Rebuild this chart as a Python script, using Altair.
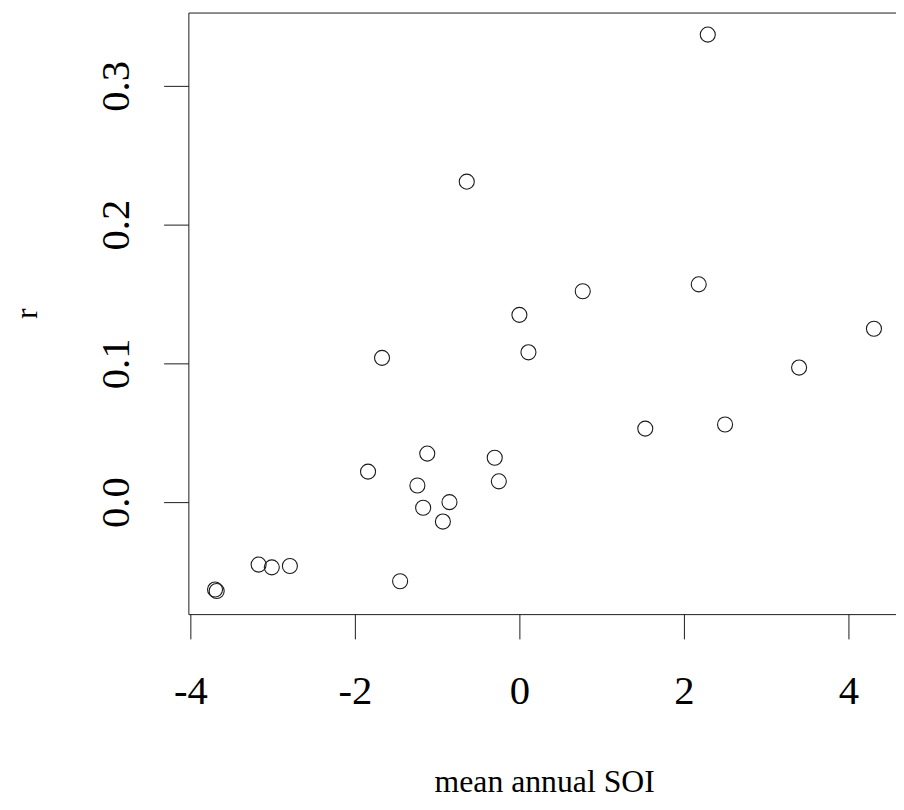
import altair as alt
import pandas as pd

# mean annual SOI (x) and correlation r (y)
soi = [2.29, -0.64, 2.18, 0.77, 0.00, 4.31, 0.11, -1.67, 3.40, 2.50,
       1.53, -1.12, -0.30, -1.84, -0.25, -1.24, -0.85, -1.17, -0.93,
       -3.17, -3.01, -2.79, -1.45, -3.70, -3.68]
r = [0.337, 0.231, 0.157, 0.152, 0.135, 0.125, 0.108, 0.104, 0.097, 0.056,
     0.053, 0.035, 0.032, 0.022, 0.015, 0.012, 0.000, -0.004, -0.014,
     -0.045, -0.047, -0.046, -0.057, -0.063, -0.064]

x_ticks = [-4, -2, 0, 2, 4]
y_ticks = [0.0, 0.1, 0.2, 0.3]
x_domain = [-4.024, 4.578]
y_domain = [-0.0807, 0.3529]

df = pd.DataFrame({"soi": soi, "r": r})

FONT = "Liberation Serif"
INK = "#1a1a1a"
W, H = 714, 607
TICK_FS = 41
TITLE_FS = 32

xscale = alt.Scale(domain=x_domain, nice=False, zero=False)
yscale = alt.Scale(domain=y_domain, nice=False, zero=False)

points = alt.Chart(df).mark_point(
    shape="circle", filled=False, size=230, stroke=INK, strokeWidth=1.1, opacity=1
).encode(
    x=alt.X("soi:Q", scale=xscale, axis=alt.Axis(
        orient="bottom", values=x_ticks,
        labelExpr="datum.value < 0 ? '-' + abs(datum.value) : '' + datum.value",
        title="mean annual SOI", titleFont=FONT, titleFontSize=TITLE_FS, titleFontWeight="normal",
        titleColor="black", titleX=359, titleY=179, titleAlign="center", titleBaseline="alphabetic",
        labelFont=FONT, labelFontSize=TICK_FS, labelColor="black", labelBaseline="alphabetic",
        labelPadding=65, tickSize=25, tickColor=INK, tickWidth=1, domainColor=INK, domainWidth=1,
        grid=False, labelFlush=False, labelOverlap=False,
    )),
    y=alt.Y("r:Q", scale=yscale, axis=alt.Axis(
        orient="left", values=y_ticks, format=".1f",
        title="r", titleFont=FONT, titleFontSize=TITLE_FS, titleFontWeight="normal", titleColor="black",
        titleAngle=270, titleX=-153, titleY=H / 2, titleAlign="center", titleBaseline="alphabetic",
        labelFont=FONT, labelFontSize=TICK_FS, labelColor="black", labelAngle=270,
        labelAlign="center", labelBaseline="alphabetic", labelPadding=35,
        tickSize=25, tickColor=INK, tickWidth=1, domainColor=INK, domainWidth=1,
        grid=False, labelFlush=False, labelOverlap=False,
    )),
)

top_border = alt.Chart(df).mark_point(opacity=0).encode(
    x=alt.X("soi:Q", scale=xscale, axis=alt.Axis(
        orient="top", labels=False, ticks=False, title="", grid=False,
        domainColor=INK, domainWidth=1,
    )),
)

chart = alt.layer(points, top_border).resolve_axis(x="independent").properties(
    width=W, height=H,
    padding={"left": 182, "top": 1, "right": 0, "bottom": 186},
    autosize=alt.AutoSizeParams(type="none"),
    background="white",
).configure_view(strokeWidth=0)

chart.save("out.html", embed_options={"renderer": "svg", "actions": False})
